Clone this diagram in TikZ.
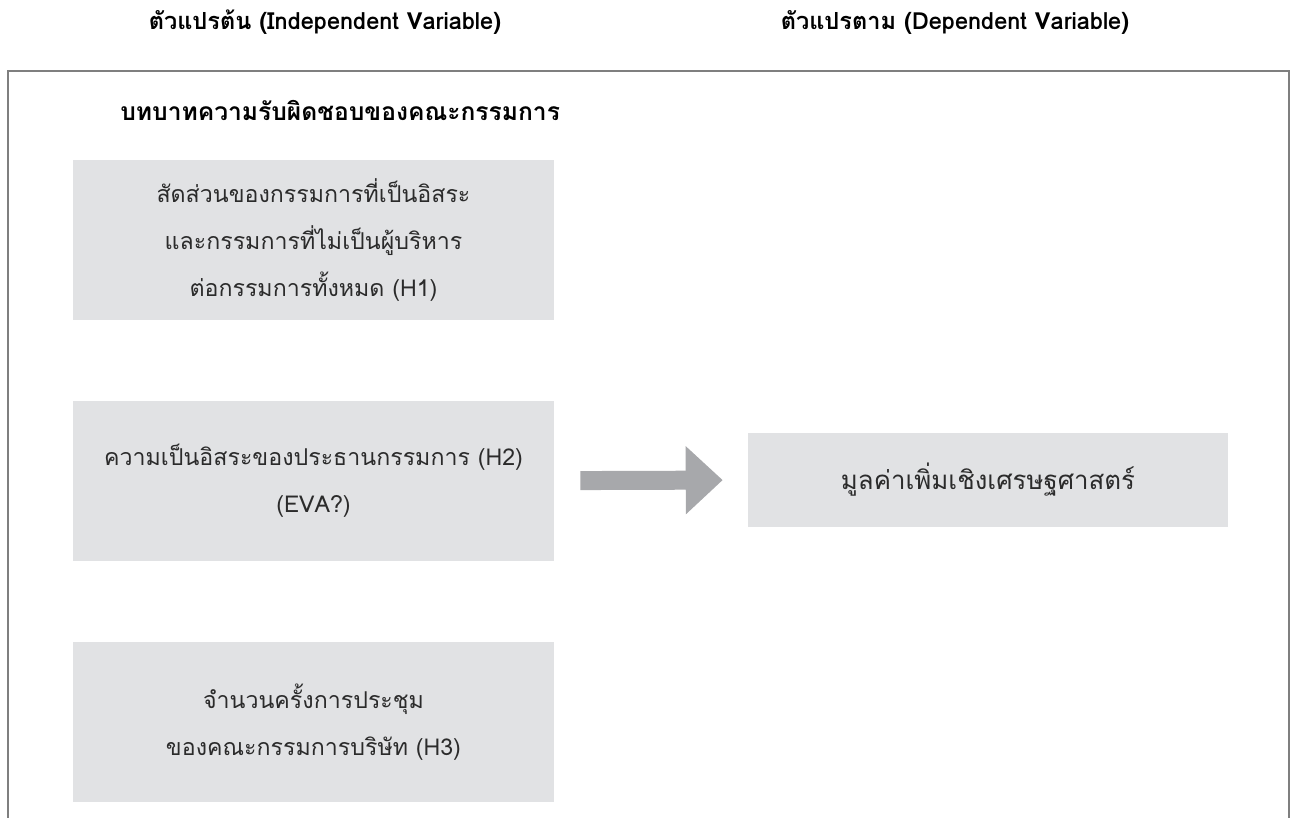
\documentclass[tikz,border=0pt]{standalone}
\usepackage{fontspec}
\usepackage{xcolor}
\usetikzlibrary{positioning,arrows.meta}
\setmainfont[Script=Thai]{Loma}
\definecolor{boxgray}{HTML}{E1E2E4}
\definecolor{arrowgray}{HTML}{A7A8AB}
\definecolor{framegray}{HTML}{7F7F7F}
\definecolor{textgray}{HTML}{2B2B2B}
\tikzset{
  varbox/.style={ % grey box of one variable
    rectangle, fill=boxgray, minimum width=9.62cm, minimum height=3.2cm,
    align=center, text=textgray, font=\fontsize{13.2}{26.7}\selectfont,
    inner sep=0pt
  },
  headtxt/.style={ % title above a column
    font=\fontsize{13.4}{16}\selectfont\bfseries, text=black, inner sep=0pt
  },
  bigarrow/.style={ % thick grey arrow between the columns
    arrowgray, line width=0.38cm,
    -{Triangle[length=0.74cm,width=1.32cm]}
  }
}
\begin{document}
\begin{tikzpicture}[x=0.02cm,y=-0.02cm]
    \useasboundingbox (0,0) rectangle (1299,818);

    % column titles
    \node[headtxt] (indep_label) at (325,22) {ตัวแปรต้น (Independent Variable)};
    \node[headtxt] (dep_label) at (955,22) {ตัวแปรตาม (Dependent Variable)};

    % frame, open at the bottom
    \draw[framegray, line width=0.6pt] (8,818) -- (8,71) -- (1289,71) -- (1289,818);

    \node[headtxt, font=\fontsize{14}{16}\selectfont\bfseries, anchor=west] (board_label) at (120,110) {บทบาทความรับผิดชอบของคณะกรรมการ};

    \node[varbox] (h1) at (313.5,240) {สัดส่วนของกรรมการที่เป็นอิสระ\\และกรรมการที่ไม่เป็นผู้บริหาร\\ต่อกรรมการทั้งหมด (H1)};
    \node[varbox, below=1.6cm of h1] (h2) {ความเป็นอิสระของประธานกรรมการ (H2)\\(EVA?)};
    \node[varbox, below=1.62cm of h2] (h3) {จำนวนครั้งการประชุม\\ของคณะกรรมการบริษัท (H3)};
    \node[varbox, font=\fontsize{14.7}{18}\selectfont, minimum width=9.6cm, minimum height=1.9cm] (eva) at (988,480) {มูลค่าเพิ่มเชิงเศรษฐศาสตร์};

    \draw[bigarrow, shorten <=0.52cm, shorten >=0.5cm] (h2.east) -- (eva.west);
\end{tikzpicture}
\end{document}
